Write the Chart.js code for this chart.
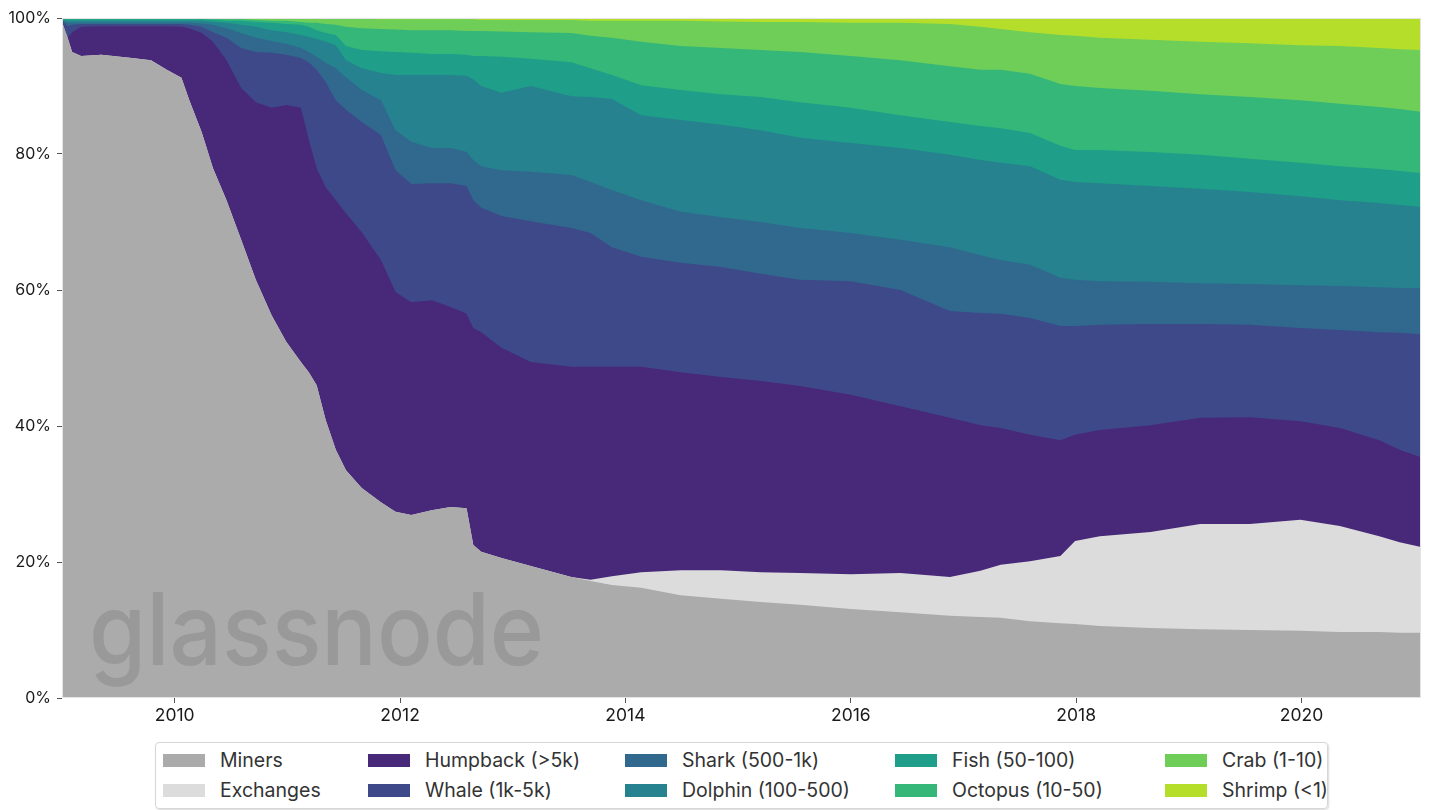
<!DOCTYPE html>
<html>
<head>
<meta charset="utf-8">
<script src="https://cdn.jsdelivr.net/npm/chart.js@4.4.1/dist/chart.umd.min.js"></script>
<style>
  body { margin: 0; background: #fff; font-family: Inter, 'Noto Sans', sans-serif; }
  .wrap { position: relative; width: 1429px; height: 810px; overflow: hidden; }
  .plot { position: absolute; left: 0; top: 0; width: 1429px; height: 735px; }
  .legend {
    position: absolute; left: 155px; top: 742px; width: 1173px; height: 67px;
    box-sizing: border-box; border: 1px solid #d6d6d6; border-radius: 4px;
    box-shadow: 1px 1px 2px rgba(0,0,0,.15);
    display: grid; grid-template-rows: 30px 30px;
    grid-template-columns: 205px 257px 270px 270px 1fr;
    grid-auto-flow: column; padding: 2px 0 0 7px;
  }
  .item { display: flex; align-items: center; font-size: 19.5px; color: #333; white-space: nowrap; }
  .sw { width: 42px; height: 13px; margin-right: 15px; flex: none; }
</style>
</head>
<body>
<div class="wrap">
  <div class="plot"><canvas id="myChart"></canvas></div>
  <div class="legend" id="legend"></div>
</div>
<script>
// Данные: доля предложения, верхняя граница каждого слоя (накопительно, %)

const years = [2009.00, 2009.05, 2009.09, 2009.17, 2009.35, 2009.62, 2009.79, 2009.93, 2010.06, 2010.13,
  2010.24, 2010.34, 2010.46, 2010.59, 2010.72, 2010.86, 2010.99, 2011.12, 2011.19, 2011.26,
  2011.34, 2011.43, 2011.52, 2011.66, 2011.83, 2011.96, 2012.10, 2012.28, 2012.45, 2012.59,
  2012.65, 2012.72, 2012.90, 2013.16, 2013.52, 2013.69, 2013.88, 2014.14, 2014.49, 2014.85,
  2015.20, 2015.55, 2016.00, 2016.44, 2016.88, 2017.15, 2017.33, 2017.59, 2017.86, 2017.99,
  2018.21, 2018.66, 2019.10, 2019.54, 2019.99, 2020.34, 2020.69, 2020.87, 2021.06]

const minersTop = [99.4, 97.1, 95.0, 94.4, 94.6, 94.1, 93.8, 92.4, 91.2, 87.9,
  83.2, 77.9, 73.2, 67.4, 61.5, 56.3, 52.4, 49.4, 47.9, 46.0,
  40.9, 36.5, 33.5, 30.9, 28.8, 27.4, 26.9, 27.6, 28.1, 27.9,
  22.5, 21.5, 20.6, 19.4, 17.8, 17.2, 16.6, 16.2, 15.1, 14.6,
  14.1, 13.7, 13.1, 12.6, 12.1, 11.9, 11.8, 11.3, 11.0, 10.9,
  10.6, 10.3, 10.1, 10.0, 9.9, 9.7, 9.7, 9.6, 9.6]

const exchangesTop = [99.4, 97.1, 95.0, 94.4, 94.6, 94.1, 93.8, 92.4, 91.2, 87.9,
  83.2, 77.9, 73.2, 67.4, 61.5, 56.3, 52.4, 49.4, 47.9, 46.0,
  40.9, 36.5, 33.5, 30.9, 28.8, 27.4, 26.9, 27.6, 28.1, 27.9,
  22.5, 21.5, 20.6, 19.4, 17.8, 17.4, 17.9, 18.5, 18.8, 18.8,
  18.5, 18.4, 18.2, 18.4, 17.8, 18.7, 19.6, 20.1, 20.9, 23.1,
  23.8, 24.4, 25.6, 25.6, 26.2, 25.3, 23.8, 22.9, 22.2]

const humpbackTop = [99.4, 97.1, 97.9, 98.7, 98.8, 98.8, 98.8, 98.8, 98.7, 98.5,
  97.8, 96.5, 93.8, 89.7, 87.6, 86.8, 87.2, 86.8, 82.1, 77.9,
  75.1, 73.2, 71.3, 68.5, 64.4, 59.7, 58.2, 58.5, 57.5, 56.5,
  54.4, 53.8, 51.5, 49.4, 48.7, 48.7, 48.7, 48.7, 47.9, 47.2,
  46.6, 45.9, 44.6, 42.9, 41.2, 40.1, 39.7, 38.7, 37.9, 38.7,
  39.4, 40.1, 41.2, 41.3, 40.7, 39.7, 37.9, 36.5, 35.4]

const whaleTop = [99.6, 98.8, 99.0, 99.1, 99.1, 99.1, 99.1, 99.1, 99.1, 99.0,
  98.7, 97.9, 97.1, 95.6, 95.0, 94.9, 94.6, 94.1, 93.5, 92.4,
  90.6, 87.9, 86.5, 84.7, 82.8, 77.6, 75.6, 75.7, 75.7, 75.3,
  73.2, 72.1, 70.9, 70.1, 69.1, 68.4, 66.3, 64.9, 64.0, 63.4,
  62.4, 61.5, 61.3, 60.0, 56.9, 56.6, 56.5, 55.9, 54.7, 54.7,
  54.9, 55.0, 55.0, 54.9, 54.4, 54.1, 53.8, 53.7, 53.5]

const sharkTop = [99.6, 99.3, 99.3, 99.3, 99.3, 99.3, 99.3, 99.3, 99.3, 99.3,
  99.2, 99.0, 98.5, 97.8, 97.1, 96.6, 96.2, 95.6, 95.0, 94.3,
  93.4, 92.6, 91.3, 89.4, 87.9, 83.5, 81.8, 80.9, 80.9, 80.3,
  79.1, 78.2, 77.6, 77.4, 76.9, 75.9, 74.7, 73.2, 71.5, 70.7,
  70.0, 69.1, 68.4, 67.4, 66.3, 65.1, 64.4, 63.7, 61.8, 61.5,
  61.3, 61.2, 61.0, 60.9, 60.7, 60.6, 60.4, 60.3, 60.3]

const dolphinTop = [99.7, 99.6, 99.6, 99.6, 99.6, 99.6, 99.6, 99.6, 99.6, 99.6,
  99.6, 99.4, 99.3, 99.0, 98.7, 98.2, 97.9, 97.5, 97.2, 96.9,
  96.5, 96.0, 93.8, 92.6, 91.9, 91.6, 91.6, 91.6, 91.6, 91.5,
  91.0, 90.0, 89.0, 90.0, 88.5, 88.4, 88.1, 85.7, 85.0, 84.3,
  83.5, 82.4, 81.6, 80.9, 79.9, 79.1, 78.7, 78.2, 76.2, 75.9,
  75.7, 75.3, 74.9, 74.4, 73.8, 73.2, 72.8, 72.5, 72.2]

const fishTop = [99.9, 99.8, 99.8, 99.8, 99.8, 99.8, 99.8, 99.8, 99.8, 99.8,
  99.8, 99.7, 99.6, 99.6, 99.4, 99.3, 99.1, 99.0, 98.7, 98.2,
  97.8, 97.5, 95.9, 95.3, 95.1, 95.0, 94.9, 94.7, 94.7, 94.6,
  94.4, 94.4, 94.3, 94.0, 93.5, 92.6, 91.6, 90.1, 89.4, 88.8,
  88.4, 87.6, 86.8, 85.7, 84.7, 84.1, 83.8, 83.1, 81.2, 80.6,
  80.6, 80.3, 79.9, 79.3, 78.7, 78.2, 77.8, 77.5, 77.2]

const octopusTop = [99.9, 99.9, 99.9, 99.9, 99.9, 99.9, 99.9, 99.9, 99.9, 99.9,
  99.9, 99.9, 99.8, 99.8, 99.7, 99.6, 99.6, 99.4, 99.3, 99.3,
  99.1, 99.0, 98.7, 98.5, 98.4, 98.3, 98.2, 98.2, 98.2, 98.1,
  98.1, 98.1, 98.0, 97.9, 97.8, 97.4, 97.1, 96.5, 95.9, 95.6,
  95.3, 95.0, 94.4, 93.8, 92.9, 92.4, 92.4, 91.8, 90.3, 90.0,
  89.7, 89.3, 88.8, 88.4, 87.9, 87.4, 86.9, 86.6, 86.2]

const crabTop = [100, 100, 100, 100, 100, 100, 100, 100, 100, 100,
  100, 100, 100, 100, 100, 100, 99.9, 99.9, 99.9, 99.9,
  99.9, 99.9, 99.9, 99.9, 99.8, 99.8, 99.8, 99.8, 99.8, 99.8,
  99.8, 99.7, 99.7, 99.7, 99.7, 99.6, 99.6, 99.6, 99.6, 99.5,
  99.4, 99.4, 99.3, 99.3, 99.1, 98.7, 98.4, 97.9, 97.5, 97.4,
  97.1, 96.8, 96.5, 96.3, 96.0, 95.9, 95.6, 95.4, 95.3]

const shrimpTop = [100, 100, 100, 100, 100, 100, 100, 100, 100, 100,
  100, 100, 100, 100, 100, 100, 100, 100, 100, 100,
  100, 100, 100, 100, 100, 100, 100, 100, 100, 100,
  100, 100, 100, 100, 100, 100, 100, 100, 100, 100,
  100, 100, 100, 100, 100, 100, 100, 100, 100, 100,
  100, 100, 100, 100, 100, 100, 100, 100, 100]

const xTicks = [2010, 2012, 2014, 2016, 2018, 2020]
const yTicks = [0, 20, 40, 60, 80, 100]

const names = ['Miners', 'Exchanges', 'Humpback (>5k)', 'Whale (1k-5k)', 'Shark (500-1k)',
  'Dolphin (100-500)', 'Fish (50-100)', 'Octopus (10-50)', 'Crab (1-10)', 'Shrimp (<1)']
const tops = [minersTop, exchangesTop, humpbackTop, whaleTop, sharkTop,
  dolphinTop, fishTop, octopusTop, crabTop, shrimpTop]
const colors = ['#ababab', '#dcdcdc', '#482878', '#3e4989', '#31688e',
  '#26828e', '#1f9e89', '#35b779', '#6ece58', '#b5de2b']


// Водяной знак и рамка

const watermark = {
  id: 'watermark',
  afterDatasetsDraw(chart) {
    const { ctx, chartArea } = chart
    ctx.save()
    ctx.strokeStyle = '#e4e4e4'
    ctx.lineWidth = 1
    ctx.strokeRect(chartArea.left + 0.5, chartArea.top + 0.5, chartArea.width - 1, chartArea.height - 1)

    ctx.font = '500 100px Inter'
    const w = ctx.measureText('glassnode').width
    ctx.translate(chartArea.left + 27, chartArea.bottom - 33)
    ctx.scale(455 / w, 1)
    ctx.globalAlpha = 0.5
    ctx.fillStyle = '#888'
    ctx.fillText('glassnode', 0, 0)
    ctx.restore()
  }
}


// Построение графика

Chart.defaults.font.family = 'Inter'

const ctx = document.getElementById('myChart').getContext('2d')

const myChart = new Chart(ctx, {
  type: 'line',
  data: {
    datasets: names.map((name, i) => ({
      label: name,
      data: years.map((x, j) => ({ x: x, y: tops[i][j] })),
      backgroundColor: colors[i],
      borderColor: 'rgba(0,0,0,0)',
      borderWidth: 0,
      pointRadius: 0,
      tension: 0,
      fill: 'origin' // нижние слои рисуются поверх верхних
    }))
  },
  options: {
    responsive: true,
    maintainAspectRatio: false,
    animation: false,
    layout: { padding: { top: 18, right: 8, bottom: 7, left: 0 } },
    plugins: {
      legend: { display: false },
      tooltip: { enabled: false }
    },
    scales: {
      x: {
        type: 'linear',
        min: 2009.0,
        max: 2021.06,
        afterBuildTicks: (scale) => { scale.ticks = xTicks.map(v => ({ value: v })) },
        afterFit: (scale) => { scale.height = 30 },
        grid: { drawOnChartArea: false, tickLength: 5, color: '#555' },
        border: { display: false },
        ticks: {
          callback: (value) => String(value),
          color: '#1a1a1a',
          font: { size: 17.5 },
          padding: 2,
          maxRotation: 0
        }
      },
      y: {
        min: 0,
        max: 100,
        afterBuildTicks: (scale) => { scale.ticks = yTicks.map(v => ({ value: v })) },
        afterFit: (scale) => { scale.width = 62 },
        grid: { drawOnChartArea: false, tickLength: 5, color: '#555' },
        border: { display: false },
        ticks: {
          callback: (value) => value + '%',
          color: '#1a1a1a',
          font: { size: 16 },
          padding: 6
        }
      }
    }
  },
  plugins: [watermark]
})


// Легенда (по столбцам, как в оригинале)

const legendBox = document.getElementById('legend')
myChart.data.datasets.forEach(ds => {
  const item = document.createElement('div')
  item.className = 'item'
  const sw = document.createElement('span')
  sw.className = 'sw'
  sw.style.background = ds.backgroundColor
  item.appendChild(sw)
  item.appendChild(document.createTextNode(ds.label))
  legendBox.appendChild(item)
})
</script>
</body>
</html>
